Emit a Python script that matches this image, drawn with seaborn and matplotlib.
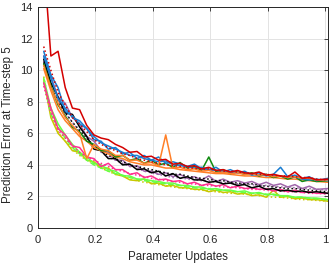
import matplotlib
matplotlib.use("Agg")
import matplotlib.pyplot as plt
import seaborn as sns

# ---- data ----
X = [0.02, 0.045, 0.07, 0.095, 0.12, 0.145, 0.17, 0.195, 0.22, 0.245,
     0.27, 0.295, 0.32, 0.345, 0.37, 0.395, 0.42, 0.445, 0.47, 0.495,
     0.52, 0.545, 0.57, 0.595, 0.62, 0.645, 0.67, 0.695, 0.72, 0.745,
     0.77, 0.795, 0.82, 0.845, 0.87, 0.895, 0.92, 0.945, 0.97, 1.01]

red = [17, 10.9, 11.2, 8.9, 7.6, 7.5, 6.5, 5.9, 5.7, 5.6, 5.3, 5.1, 4.8, 4.85, 4.5, 4.55, 4.3, 4.35, 4.05, 4.1,
       3.9, 3.95, 3.75, 3.85, 3.65, 3.7, 3.55, 3.65, 3.5, 3.45, 3.55, 3.35, 3.4, 3.3, 3.25, 3.55, 3.15, 3.2, 3.05, 3.1]
red_dot = [11.5, 10.0, 8.6, 7.8, 7.0, 6.6, 6.1, 5.6, 5.3, 5.1, 4.9, 4.7, 4.6, 4.4, 4.3, 4.2, 4.1, 4.0, 3.95, 3.9,
           3.8, 3.8, 3.7, 3.75, 3.65, 3.6, 3.6, 3.55, 3.5, 3.45, 3.4, 3.4, 3.35, 3.3, 3.3, 3.25, 3.2, 3.2, 3.1, 3.05]
blue = [11.2, 9.7, 8.9, 7.4, 7.1, 6.6, 6.3, 5.6, 5.5, 5.0, 5.1, 4.7, 4.8, 4.4, 4.6, 4.3, 4.5, 4.1, 4.2, 4.05,
        3.9, 4.05, 3.75, 3.7, 3.85, 3.55, 3.7, 3.5, 3.6, 3.35, 3.5, 3.3, 3.4, 3.85, 3.25, 3.35, 3.15, 3.25, 3.0, 3.15]
blue2 = [10.9, 9.5, 8.2, 7.6, 7.0, 6.8, 6.3, 5.8, 5.4, 5.2, 5.0, 4.8, 4.6, 4.6, 4.4, 4.3, 4.2, 4.25, 4.0, 3.95,
         3.9, 3.8, 3.85, 3.7, 3.65, 3.6, 3.55, 3.5, 3.5, 3.4, 3.35, 3.4, 3.3, 3.3, 3.2, 3.25, 3.1, 3.05, 3.1, 3.0]
green = [10.4, 9.0, 7.8, 7.1, 6.4, 6.1, 5.5, 5.3, 4.9, 4.9, 4.5, 4.6, 4.3, 4.4, 4.1, 4.3, 4.0, 4.1, 3.85, 4.15,
         3.8, 3.9, 3.65, 4.5, 3.55, 3.7, 3.45, 3.55, 3.4, 3.5, 3.3, 3.4, 3.2, 3.3, 3.1, 3.25, 2.95, 3.05, 2.95, 3.0]
orange = [10.3, 8.9, 7.9, 7.0, 6.5, 6.0, 4.4, 5.3, 5.0, 4.9, 4.6, 4.6, 4.3, 4.3, 4.1, 4.15, 3.95, 5.9, 3.8, 3.85,
          3.7, 3.75, 3.6, 3.65, 3.5, 3.55, 3.45, 3.5, 3.4, 3.45, 3.35, 3.4, 3.25, 3.3, 3.2, 3.25, 3.15, 3.15, 3.05, 3.05]
orange2 = [10.1, 8.7, 7.5, 6.8, 6.3, 5.8, 5.5, 5.1, 4.9, 4.7, 4.5, 4.4, 4.2, 4.1, 4.0, 4.0, 3.9, 3.8, 3.8, 3.7,
           3.65, 3.6, 3.55, 3.5, 3.45, 3.45, 3.4, 3.35, 3.3, 3.3, 3.25, 3.2, 3.2, 3.15, 3.1, 3.1, 3.05, 3.0, 2.95, 2.9]
black = [10.7, 9.2, 8.3, 7.3, 7.2, 6.4, 5.8, 5.0, 4.9, 4.4, 4.4, 4.0, 4.05, 3.7, 3.75, 3.5, 3.6, 3.3, 3.45, 3.15,
         3.25, 3.05, 3.05, 2.9, 2.95, 2.8, 2.85, 2.7, 2.75, 2.55, 2.65, 2.45, 2.5, 2.35, 2.4, 2.3, 2.35, 2.25, 2.3, 2.2]
black_dot = [10.5, 9.0, 8.0, 7.3, 6.7, 6.2, 5.7, 5.2, 4.9, 4.6, 4.4, 4.2, 4.0, 3.9, 3.8, 3.7, 3.6, 3.5, 3.4, 3.4,
             3.3, 3.2, 3.15, 3.1, 3.0, 3.0, 2.9, 2.85, 2.8, 2.8, 2.7, 2.65, 2.6, 2.55, 2.5, 2.5, 2.45, 2.4, 2.35, 2.3]
purple = [10.9, 9.6, 8.3, 7.9, 7.0, 6.6, 5.8, 5.5, 4.9, 4.8, 4.3, 4.3, 3.9, 3.95, 3.6, 3.6, 3.4, 3.5, 3.25, 3.4,
          3.15, 3.25, 3.05, 3.3, 2.95, 3.1, 2.9, 3.0, 2.85, 2.95, 2.75, 2.9, 2.7, 2.8, 2.6, 2.75, 2.5, 2.65, 2.45, 2.5]
purple_dot = [10.6, 9.4, 8.1, 7.3, 6.7, 6.1, 5.6, 5.2, 4.8, 4.5, 4.3, 4.1, 3.9, 3.8, 3.6, 3.5, 3.4, 3.3, 3.2, 3.2,
              3.1, 3.05, 3.0, 3.0, 2.9, 2.9, 2.85, 2.8, 2.8, 2.75, 2.7, 2.7, 2.65, 2.6, 2.6, 2.55, 2.5, 2.5, 2.45, 2.4]
pink = [9.2, 7.6, 6.3, 5.9, 5.2, 5.1, 4.5, 4.4, 3.9, 4.1, 3.7, 3.7, 3.4, 3.5, 3.2, 3.3, 3.05, 3.1, 2.95, 3.0,
        2.8, 2.9, 2.7, 2.8, 2.65, 2.75, 2.55, 2.65, 2.5, 2.55, 2.45, 2.5, 2.35, 2.45, 2.3, 2.4, 2.25, 2.3, 2.2, 2.2]
pink_dot = [9.0, 7.3, 6.2, 5.7, 5.2, 4.8, 4.5, 4.3, 4.1, 3.9, 3.7, 3.6, 3.45, 3.35, 3.25, 3.15, 3.1, 3.0, 2.95, 2.9,
            2.8, 2.8, 2.7, 2.7, 2.65, 2.6, 2.6, 2.55, 2.5, 2.45, 2.45, 2.4, 2.35, 2.35, 2.3, 2.3, 2.25, 2.2, 2.2, 2.15]
lime = [9.5, 7.6, 6.6, 5.9, 5.3, 4.8, 4.5, 4.1, 4.0, 3.7, 3.6, 3.3, 3.3, 3.1, 3.1, 3.0, 2.95, 2.85, 2.85, 2.7,
        2.7, 2.6, 2.6, 2.45, 2.5, 2.4, 2.4, 2.3, 2.35, 2.2, 2.25, 2.1, 2.15, 2.05, 2.05, 1.95, 1.95, 1.9, 1.9, 1.8]
lime2 = [9.3, 7.2, 6.4, 5.7, 5.1, 4.7, 4.3, 4.0, 3.8, 3.6, 3.45, 3.35, 3.2, 3.1, 3.0, 2.95, 2.85, 2.8, 2.75, 2.7,
         2.6, 2.55, 2.5, 2.5, 2.4, 2.4, 2.35, 2.3, 2.25, 2.2, 2.2, 2.15, 2.1, 2.05, 2.0, 1.95, 1.95, 1.9, 1.85, 1.8]
yellow = [9.4, 7.0, 6.0, 5.5, 4.9, 4.8, 4.3, 4.2, 3.8, 3.8, 3.4, 3.3, 3.05, 3.0, 3.1, 2.8, 2.85, 2.65, 2.7, 2.55,
          2.55, 2.45, 2.45, 2.3, 2.4, 2.25, 2.3, 2.15, 2.2, 2.05, 2.1, 1.95, 2.4, 1.95, 2.0, 1.85, 1.9, 1.8, 1.8, 1.7]
yellow_dot = [9.6, 7.3, 6.1, 5.5, 5.0, 4.6, 4.3, 4.1, 3.8, 3.6, 3.4, 3.3, 3.1, 3.0, 2.9, 2.85, 2.75, 2.7, 2.6, 2.55,
              2.5, 2.45, 2.4, 2.35, 2.3, 2.25, 2.2, 2.2, 2.15, 2.1, 2.05, 2.0, 1.95, 1.95, 1.9, 1.85, 1.8, 1.8, 1.75, 1.7]

X_TICKS = [0, 0.2, 0.4, 0.6, 0.8, 1.0]
X_TICK_LABELS = ["0", "0.2", "0.4", "0.6", "0.8", "1"]
Y_TICKS = [0, 2, 4, 6, 8, 10, 12, 14]
X_LABEL = "Parameter Updates"
Y_LABEL = "Prediction Error at Time-step 5"

# (values, color, linestyle) drawn back to front
SERIES = [
    (yellow_dot, "#C8C800", ":"),
    (yellow, "#C8C800", "-"),
    (lime2, "#66FF44", "--"),
    (lime, "#66FF44", "-"),
    (pink_dot, "#FF2F8F", ":"),
    (pink, "#FF2F8F", "-"),
    (purple_dot, "#A066AA", ":"),
    (purple, "#A066AA", "-"),
    (black_dot, "#000000", ":"),
    (black, "#000000", "-"),
    (orange2, "#FF7F27", "-"),
    (green, "#0E8A0E", "-"),
    (blue2, "#1A7DD1", "-"),
    (blue, "#1A7DD1", "-"),
    (orange, "#FF7F27", "-"),
    (red_dot, "#D40000", ":"),
    (red, "#D40000", "-"),
]

sns.set_theme(style="whitegrid")
plt.rcParams["font.family"] = ["Liberation Sans", "DejaVu Sans"]

fig = plt.figure(figsize=(3.36, 2.63), dpi=100)
ax = fig.add_axes([0.113, 0.133, 0.863, 0.840])

for vals, col, ls in SERIES:
    sns.lineplot(x=X, y=vals, color=col, linestyle=ls, linewidth=1.1, ax=ax)

ax.set_xlim(0, 1.01)
ax.set_ylim(0, 14)
ax.set_xticks(X_TICKS)
ax.set_xticklabels(X_TICK_LABELS)
ax.set_yticks(Y_TICKS)
ax.set_xlabel(X_LABEL, fontsize=8.3, color="#262626")
ax.set_ylabel(Y_LABEL, fontsize=8.3, color="#262626")
ax.xaxis.set_label_coords(0.481, -0.105)
ax.yaxis.set_label_coords(-0.083, 0.466)
ax.tick_params(axis="both", which="both", direction="in", length=3, width=0.6,
               labelsize=8, colors="#262626", top=True, right=True)
ax.tick_params(axis="x", pad=5)
ax.tick_params(axis="y", pad=4)
ax.grid(True, color="#E3E3E3", linewidth=0.7)
for s in ax.spines.values():
    s.set_color("#262626")
    s.set_linewidth(0.7)
ax.set_facecolor("white")
fig.patch.set_facecolor("white")

fig.savefig("out.png", dpi=100, facecolor="white")
